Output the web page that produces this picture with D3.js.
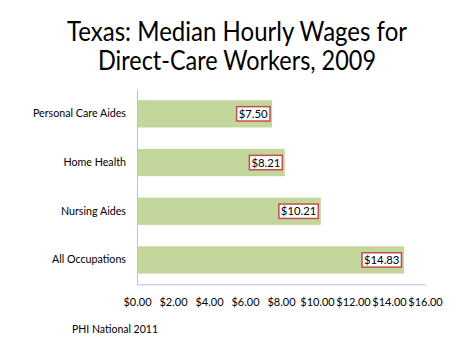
<!DOCTYPE html>
<html><head><meta charset="utf-8">
<script src="https://cdn.jsdelivr.net/npm/d3@7"></script>
<style>body{margin:0;background:#fff}svg{display:block}text{font-family:Lato,"Open Sans",sans-serif}</style>
</head><body><svg id="c" width="474" height="355"></svg>
<script>
const categories = ["Personal Care Aides","Home Health","Nursing Aides","All Occupations"];
const wages = [7.50, 8.21, 10.21, 14.83];
const wageLabels = ["$7.50","$8.21","$10.21","$14.83"];
const tickValues = [0,2,4,6,8,10,12,14,16];
const titleLines = ["Texas: Median Hourly Wages for","Direct-Care Workers, 2009"];
const titleWidths = [340, 278];
const source = "PHI National 2011";

const svg = d3.select("#c");
const x = d3.scaleLinear().domain([0,16]).range([137,425]);
const y = d3.scaleBand().domain(categories).range([89.5,284.3]).paddingInner(0.44).paddingOuter(0.22);

svg.selectAll("text.title").data(titleLines).join("text").attr("class","title")
  .attr("x",237).attr("y",(d,i)=>41+i*29).attr("text-anchor","middle")
  .attr("font-size",26).attr("fill","#000")
  .attr("textLength",(d,i)=>titleWidths[i]).attr("lengthAdjust","spacingAndGlyphs").text(d=>d);

svg.selectAll("rect.bar").data(wages).join("rect").attr("class","bar")
  .attr("x",x(0)).attr("y",(d,i)=>y(categories[i])).attr("width",d=>x(d)-x(0))
  .attr("height",y.bandwidth()).attr("fill","#c3d69b");

// axes
const xa = svg.append("g").attr("transform",`translate(0,${y.range()[1]})`)
  .call(d3.axisBottom(x).tickValues(tickValues).tickSize(0).tickPadding(14).tickFormat(d=>"$"+d.toFixed(2)));
xa.select(".domain").attr("stroke","#bfbfbf");
xa.selectAll("text").attr("font-size",11).attr("fill","#000").style("font-family","Lato,sans-serif");

const ya = svg.append("g").attr("transform",`translate(${x(0)},0)`)
  .call(d3.axisLeft(y).tickSize(0).tickPadding(11));
ya.select(".domain").attr("stroke","#bfbfbf");
ya.selectAll("text").attr("font-size",10.7).attr("fill","#000").style("font-family","Lato,sans-serif");

// value labels
const lg = svg.selectAll("g.lbl").data(wages).join("g").attr("class","lbl");
lg.each(function(d,i){
  const g = d3.select(this);
  const cy = y(categories[i]) + y.bandwidth()/2;
  const t = g.append("text").attr("x",x(d)-4.5).attr("y",cy).attr("dy","0.36em")
    .attr("text-anchor","end").attr("font-size",11.3).attr("fill","#000").text(wageLabels[i]);
  const bb = t.node().getBBox();
  g.insert("rect","text").attr("x",bb.x-2).attr("y",cy-7.2).attr("width",bb.width+4).attr("height",14.4)
    .attr("fill","#fff").attr("stroke","#c0504d").attr("stroke-width",1.5);
});

svg.append("text").attr("x",72).attr("y",333).attr("font-size",10.5).attr("fill","#000").text(source);
</script></body></html>
